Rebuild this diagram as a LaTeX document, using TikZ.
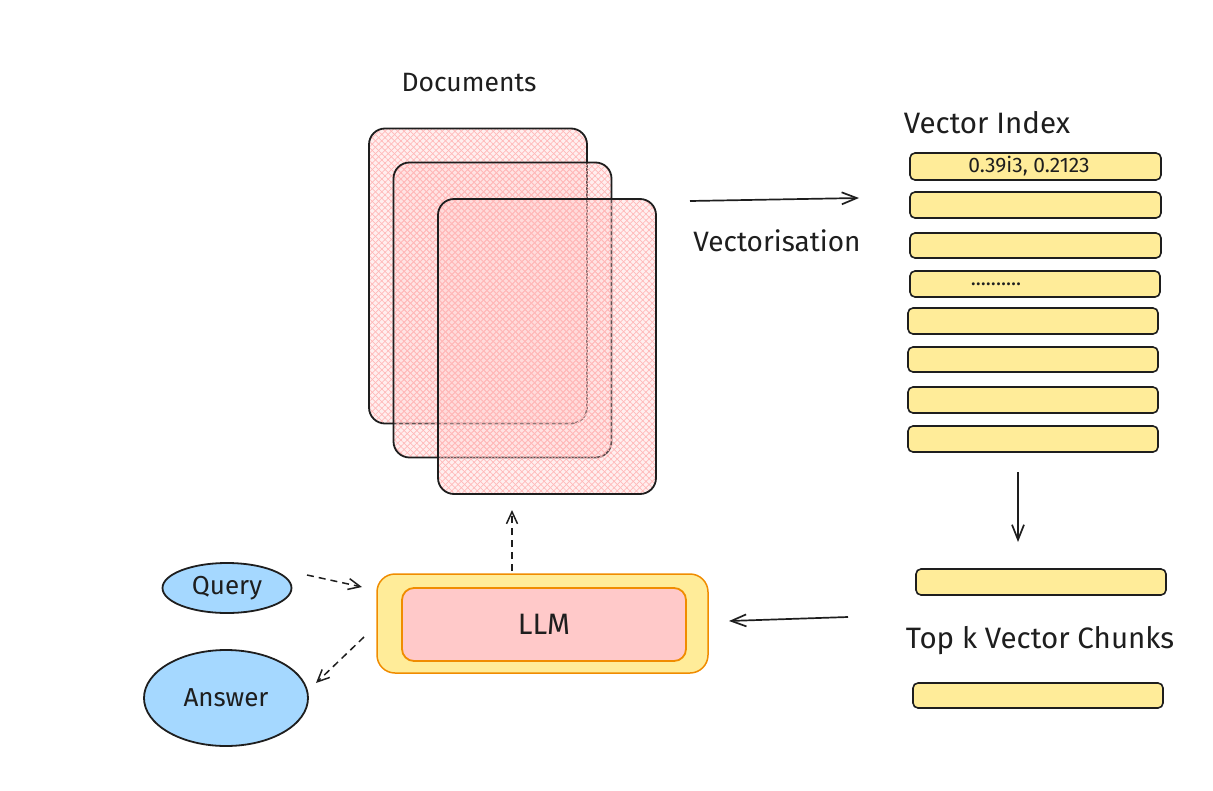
\documentclass[tikz,border=0pt]{standalone}
\usepackage{fontspec}
\setmainfont{Fira Sans}
\usetikzlibrary{arrows.meta,patterns.meta,shapes.geometric}
\definecolor{docpink}{HTML}{FFC9C9}
\definecolor{hatchpink}{HTML}{FFB8B8}
\definecolor{barfill}{HTML}{FFEC99}
\definecolor{llmorange}{HTML}{F08C00}
\definecolor{qblue}{HTML}{A5D8FF}
\definecolor{ink}{HTML}{1E1E1E}
\begin{document}
\begin{tikzpicture}[x=1pt,y=-1pt,
  docbox/.style={draw=ink, line width=1.8pt, rounded corners=16pt,
    minimum width=218pt, minimum height=295pt, inner sep=0pt, outer sep=0pt,
    preaction={fill=docpink, fill opacity=0.3},
    preaction={pattern={Lines[angle=45,distance=4.5pt,line width=0.7pt]}, pattern color=hatchpink},
    preaction={pattern={Lines[angle=-45,distance=4.5pt,line width=0.7pt]}, pattern color=hatchpink}},
  bar/.style={draw=ink, line width=1.6pt, fill=barfill, rounded corners=5pt,
    minimum width=250pt, minimum height=26pt, inner sep=0pt, outer sep=0pt},
  lbl/.style={font=\fontsize{26}{30}\selectfont, text=ink, inner sep=0pt},
  biglbl/.style={font=\fontsize{29.5}{34}\selectfont, text=ink, inner sep=0pt},
  small/.style={font=\fontsize{21}{24}\selectfont, text=ink, inner sep=0pt},
  oval/.style={ellipse, draw=ink, line width=1.8pt, fill=qblue, inner sep=0pt},
  arr/.style={draw=ink, line width=1.7pt, -{Straight Barb[length=15pt,width=12pt]}},
  darr/.style={draw=ink, line width=1.5pt, dash pattern=on 7pt off 5pt, -{Straight Barb[length=12pt,width=11pt]}}
]
\useasboundingbox (0,0) rectangle (1213,790);

% Documents
\node[docbox] (d1) at (478,276) {};
\node[docbox] (d2) at (502.5,310) {};
\node[docbox] (d3) at (547,346.5) {};
\node[lbl, font=\fontsize{26.5}{30}\selectfont] (doclbl) at (469,83) {Documents};

% Vector index
\node[biglbl] (vilbl) at (987,123) {Vector Index};
\node[bar, minimum width=251pt, minimum height=27pt] (b1) at (1035.5,166.5) {};
\node[small] (b1t) at (1029,166) {0.39i3, 0.2123};
\node[bar, minimum width=251pt] (b2) at (1035.5,205) {};
\node[bar, minimum width=251pt, minimum height=25pt] (b3) at (1035.5,245.5) {};
\node[bar] (b4) at (1035,284) {};
\node[small] (b4t) at (996,284) {..........};
\node[bar] (b5) at (1033,321) {};
\node[bar, minimum height=25pt] (b6) at (1033,359.5) {};
\node[bar] (b7) at (1033,400) {};
\node[bar] (b8) at (1033,439) {};

% Top k
\node[bar] (k1) at (1041,582) {};
\node[biglbl] (klbl) at (1040,641) {Top k Vector Chunks};
\node[bar, minimum height=25pt] (k2) at (1038,695.5) {};

% LLM
\node[draw=llmorange, line width=1.5pt, fill=barfill, rounded corners=18pt,
  minimum width=331pt, minimum height=99pt, inner sep=0pt] (llmo) at (542.5,623.5) {};
\node[draw=llmorange, line width=1.8pt, fill=docpink, rounded corners=12pt,
  minimum width=284pt, minimum height=73pt, inner sep=0pt, biglbl] (llm) at (544,624.5) {LLM};

% Query / Answer
\node[oval, minimum width=129pt, minimum height=50pt, lbl] (q) at (227,588) {Query};
\node[oval, minimum width=164pt, minimum height=96pt, lbl] (a) at (226,698) {Answer};

% Vectorisation arrow
\coordinate (v1) at (690,201);
\coordinate (v2) at (859,198);
\draw[arr] (v1) -- (v2);
\node[biglbl, font=\fontsize{28}{32}\selectfont] (vlbl) at (777,241) {Vectorisation};

% down arrow
\coordinate (dn1) at (1018,472);
\coordinate (dn2) at (1018,542);
\draw[arr] (dn1) -- (dn2);

% left arrow
\coordinate (l1) at (848,617);
\coordinate (l2) at (729,621);
\draw[arr] (l1) -- (l2);

% dashed arrows
\coordinate (u1) at (512,571);
\coordinate (u2) at (512,510);
\draw[darr] (u1) -- (u2);
\coordinate (q1) at (307,575);
\coordinate (q2) at (362,587);
\draw[darr] (q1) -- (q2);
\coordinate (a1) at (364,637);
\coordinate (a2) at (316,683);
\draw[darr] (a1) -- (a2);
\end{tikzpicture}
\end{document}
